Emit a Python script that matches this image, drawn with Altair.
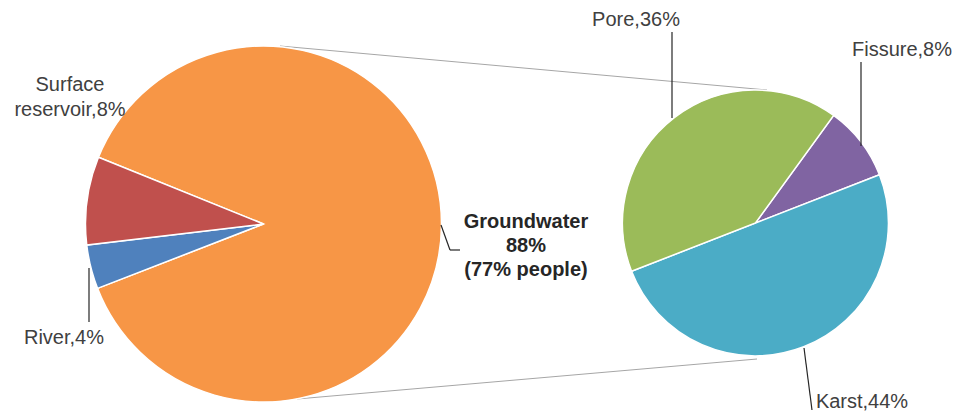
import math
import altair as alt
import pandas as pd

# ---------------- data ----------------
main_names = ["Groundwater", "River", "Surface reservoir"]
main_values = [88, 4, 8]
main_colors = ["#F79646", "#4F81BD", "#C0504D"]
groundwater_people = 77

sub_names = ["Fissure", "Karst", "Pore"]
sub_values = [8, 44, 36]
sub_colors = ["#8064A2", "#4BACC6", "#9BBB59"]

# ---------------- layout ----------------
W, H = 966, 414
L_CX, L_CY, L_R = 263.5, 224, 178
R_CX, R_CY, R_R = 755.5, 223, 133
L_START = math.radians(292)
R_START = math.radians(36)
FONT = "Liberation Sans"
FS = 20
TXT = "#404040"

main_df = pd.DataFrame({"name": main_names, "value": main_values, "ord": range(3)})
sub_df = pd.DataFrame({"name": sub_names, "value": sub_values, "ord": range(3)})

left_pie = alt.Chart(main_df).mark_arc(radius=L_R, stroke="white", strokeWidth=1.5).encode(
    theta=alt.Theta("value:Q", stack=True,
                    scale=alt.Scale(domain=[0, sum(main_values)], range=[L_START, L_START + 2 * math.pi])),
    color=alt.Color("name:N", scale=alt.Scale(domain=main_names, range=main_colors), legend=None),
    order=alt.Order("ord:Q"),
    x=alt.value(L_CX), y=alt.value(L_CY),
)

right_pie = alt.Chart(sub_df).mark_arc(radius=R_R, stroke="white", strokeWidth=1.5).encode(
    theta=alt.Theta("value:Q", stack=True,
                    scale=alt.Scale(domain=[0, sum(sub_values)], range=[R_START, R_START + 2 * math.pi])),
    color=alt.Color("name:N", scale=alt.Scale(domain=sub_names, range=sub_colors), legend=None),
    order=alt.Order("ord:Q"),
    x=alt.value(R_CX), y=alt.value(R_CY),
)

# connector lines between the pies
conn_df = pd.DataFrame({"x": [280, 297], "y": [46, 399], "x2": [767, 757], "y2": [90, 359]})
connectors = alt.Chart(conn_df).mark_rule(color="#A6A6A6", strokeWidth=1).encode(
    x=alt.X("x:Q", scale=None), y=alt.Y("y:Q", scale=None),
    x2="x2:Q", y2="y2:Q",
)

# leader lines
lead_df = pd.DataFrame({
    "x":  [441, 450, 89, 672, 861, 804],
    "y":  [225, 250, 268, 32, 62, 348],
    "x2": [450, 460, 89, 672, 861, 812],
    "y2": [250, 250, 322, 118, 146, 410],
})
leaders = alt.Chart(lead_df).mark_rule(color="#262626", strokeWidth=1.2).encode(
    x=alt.X("x:Q", scale=None), y=alt.Y("y:Q", scale=None),
    x2="x2:Q", y2="y2:Q",
)

# labels
lab_pos = {
    "River": (64, 338),
    "Surface reservoir": (70, 84.5),
    "Pore": (636, 20),
    "Fissure": (902, 50),
    "Karst": (862, 402),
}
rows = []
for n, v in zip(main_names + sub_names, main_values + sub_values):
    if n in lab_pos:
        t = f"{n},{v}%"
        if n == "Surface reservoir":
            t = f"Surface\nreservoir,{v}%"
        rows.append({"label": t, "x": lab_pos[n][0], "y": lab_pos[n][1]})
lab_df = pd.DataFrame(rows)
labels = alt.Chart(lab_df).mark_text(
    font=FONT, fontSize=FS, color=TXT, align="center", baseline="middle", lineBreak="\n", lineHeight=25
).encode(
    x=alt.X("x:Q", scale=None), y=alt.Y("y:Q", scale=None), text="label:N"
)

gw_df = pd.DataFrame({
    "label": [f"{main_names[0]}\n{main_values[0]}%\n({groundwater_people}% people)"],
    "x": [526], "y": [222],
})
gw_label = alt.Chart(gw_df).mark_text(
    font=FONT, fontSize=FS, fontWeight="bold", color="#262626", align="center",
    baseline="middle", lineBreak="\n", lineHeight=24
).encode(
    x=alt.X("x:Q", scale=None), y=alt.Y("y:Q", scale=None), text="label:N"
)

chart = alt.layer(connectors, left_pie, right_pie, leaders, labels, gw_label).resolve_scale(
    theta="independent", color="independent"
).properties(
    width=W, height=H, autosize=alt.AutoSizeParams(type="none"), padding=0
).configure_view(stroke=None)

chart.save("out.html", embed_options={"renderer": "svg", "actions": False})
